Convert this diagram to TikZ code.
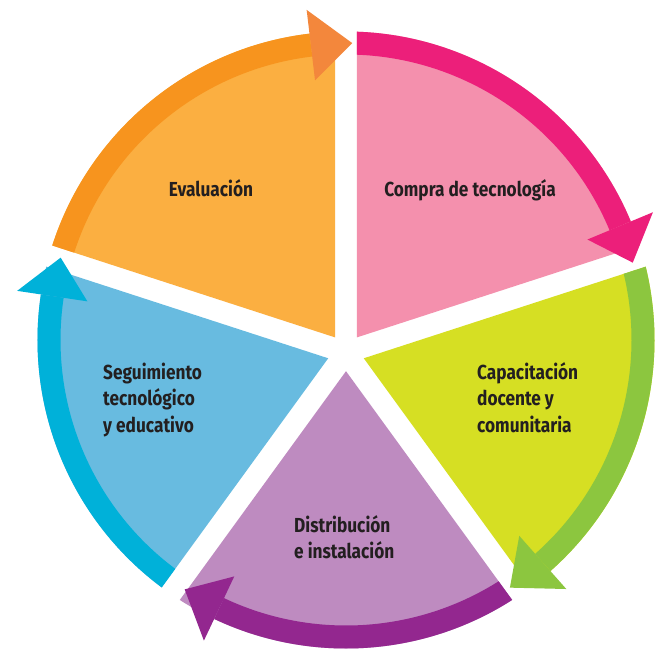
\documentclass[tikz,border=0pt]{standalone}
\usepackage{fontspec}
\newfontfamily\lblfont{Fira Sans}[FakeStretch=0.85]
\usetikzlibrary{calc}

\definecolor{txt}{HTML}{231F20}
\definecolor{orangeL}{HTML}{FBAF41}
\definecolor{orangeD}{HTML}{F7941E}
\definecolor{orangeH}{HTML}{F3873C}
\definecolor{pinkL}{HTML}{F490AD}
\definecolor{pinkD}{HTML}{EC1F7A}
\definecolor{greenL}{HTML}{D6DF23}
\definecolor{greenD}{HTML}{8CC63F}
\definecolor{purpleL}{HTML}{BE8BC0}
\definecolor{purpleD}{HTML}{93278F}
\definecolor{blueL}{HTML}{68BBE0}
\definecolor{blueD}{HTML}{00B1D9}

% ring radii: band centre line, outer edge, arrowhead barbs
\def\rc{297}
\def\rOut{308.5}
\def\rHi{332.5}
\def\rLo{261.5}

% one sector of the cycle with its coloured band
% #1 bisector angle, #2 angle where the band stops, #3 light fill, #4 band colour
\newcommand\cyclesector[4]{%
  \begin{scope}
    \coordinate (A) at ($(S)+(#1:18.7)$);
    \clip (A) -- ($(A)+(#1+36:700)$) -- ($(A)+(#1:900)$) -- ($(A)+(#1-36:700)$) -- cycle;
    \fill[#3] (0,0) circle (\rOut);
    \draw[#4, line width=23pt] (#1+40:\rc) arc[start angle=#1+40, end angle=#2, radius=\rc];
  \end{scope}}

% arrowhead at the end of a band: #1 base angle, #2 tip angle, #3 colour
\newcommand\cyclehead[3]{%
  \fill[#3] (#1:\rLo) -- (#2:\rc) -- (#1:\rHi) -- cycle;}

\begin{document}
\begin{tikzpicture}[x=1pt, y=1pt,
  lbl/.style={font=\lblfont\bfseries\fontsize{20.3}{24}\selectfont, text=txt, inner sep=0pt}]
  \fill[white] (-346,-309) rectangle (310,340);
  \useasboundingbox (-346,-309) rectangle (310,340);
  \coordinate (S) at (0,-12.5);

  % sectors and bands
  \cyclesector{126}{96.8}{orangeL}{orangeD}
  \cyclesector{54}{22.6}{pinkL}{pinkD}
  \cyclesector{-18}{-48.5}{greenL}{greenD}
  \cyclesector{-90}{-115.3}{purpleL}{purpleD}
  \cyclesector{-162}{-188.5}{blueL}{blueD}

  % arrowheads
  \cyclehead{96.8}{88.8}{orangeH}
  \cyclehead{22.6}{15.1}{pinkD}
  \cyclehead{-48.5}{-56.5}{greenD}
  \cyclehead{-115.3}{-122.9}{purpleD}
  \cyclehead{171.5}{163.9}{blueD}

  % labels
  \node[lbl, anchor=base] (eval) at (-135,144) {Evaluación};
  \node[lbl, anchor=base] (compra) at (124,144) {Compra de tecnología};
  \node[lbl, anchor=base west] (cap1) at (131,-39) {Capacitación};
  \node[lbl, anchor=base west] (cap2) at (131,-65.5) {docente y};
  \node[lbl, anchor=base west] (cap3) at (131,-92) {comunitaria};
  \node[lbl, anchor=base west] (dist1) at (-52,-192) {Distribución};
  \node[lbl, anchor=base west] (dist2) at (-52,-218) {e instalación};
  \node[lbl, anchor=base west] (seg1) at (-243,-39) {Seguimiento};
  \node[lbl, anchor=base west] (seg2) at (-243,-65.5) {tecnológico};
  \node[lbl, anchor=base west] (seg3) at (-243,-92) {y educativo};
\end{tikzpicture}
\end{document}
